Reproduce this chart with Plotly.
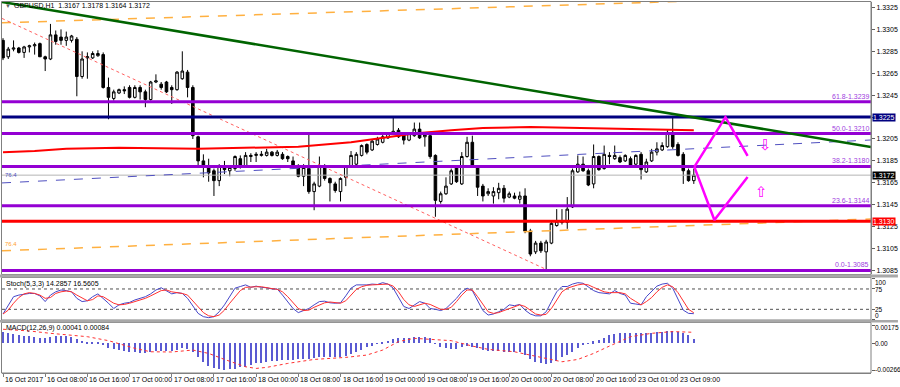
import plotly.graph_objects as go

# ---------------- data ----------------
time_labels = ["16 Oct 2017", "16 Oct 08:00", "16 Oct 16:00", "17 Oct 00:00", "17 Oct 08:00",
               "17 Oct 16:00", "18 Oct 00:00", "18 Oct 08:00", "18 Oct 16:00", "19 Oct 00:00",
               "19 Oct 08:00", "19 Oct 16:00", "20 Oct 00:00", "20 Oct 08:00", "20 Oct 16:00",
               "23 Oct 01:00", "23 Oct 09:00"]
time_label_bars = [0, 8, 16, 24, 32, 40, 48, 56, 64, 72, 80, 88, 96, 104, 112, 120, 128]

open_ = [1.3295, 1.3280, 1.3287, 1.3288, 1.3284, 1.3289, 1.3290, 1.3292, 1.3280, 1.3278,
         1.3300, 1.3298, 1.3295, 1.3295, 1.3296, 1.3262, 1.3279, 1.3279, 1.3281, 1.3282,
         1.3252, 1.3242, 1.3247, 1.3250, 1.3252, 1.3243, 1.3252, 1.3248, 1.3241, 1.3257,
         1.3255, 1.3257, 1.3252, 1.3250, 1.3260, 1.3266, 1.3252, 1.3207, 1.3185, 1.3180,
         1.3176, 1.3167, 1.3180, 1.3176, 1.3178, 1.3187, 1.3180, 1.3189, 1.3190, 1.3190,
         1.3190, 1.3193, 1.3190, 1.3191, 1.3189, 1.3185, 1.3180, 1.3171, 1.3178, 1.3157,
         1.3162, 1.3180, 1.3169, 1.3164, 1.3157, 1.3170, 1.3180, 1.3182, 1.3190, 1.3200,
         1.3195, 1.3200, 1.3202, 1.3206, 1.3210, 1.3213, 1.3209, 1.3204, 1.3208, 1.3214,
         1.3207, 1.3208, 1.3190, 1.3148, 1.3155, 1.3164, 1.3179, 1.3164, 1.3189, 1.3202,
         1.3179, 1.3162, 1.3155, 1.3153, 1.3156, 1.3160, 1.3152, 1.3153, 1.3150, 1.3153,
         1.3121, 1.3102, 1.3110, 1.3102, 1.3110, 1.3126, 1.3130, 1.3129, 1.3143, 1.3175,
         1.3182, 1.3176, 1.3164, 1.3189, 1.3178, 1.3190, 1.3187, 1.3188, 1.3185, 1.3187,
         1.3182, 1.3191, 1.3175, 1.3185, 1.3193, 1.3195, 1.3198, 1.3211, 1.3200, 1.3191,
         1.3176, 1.3167]
high = [1.3297, 1.3289, 1.3295, 1.3289, 1.3290, 1.3291, 1.3293, 1.3293, 1.3281, 1.3310,
        1.3304, 1.3305, 1.3303, 1.3300, 1.3298, 1.3285, 1.3284, 1.3285, 1.3286, 1.3284,
        1.3261, 1.3250, 1.3251, 1.3253, 1.3254, 1.3254, 1.3254, 1.3250, 1.3258, 1.3264,
        1.3257, 1.3258, 1.3254, 1.3267, 1.3285, 1.3268, 1.3254, 1.3208, 1.3191, 1.3187,
        1.3178, 1.3182, 1.3185, 1.3181, 1.3190, 1.3190, 1.3193, 1.3192, 1.3193, 1.3194,
        1.3196, 1.3194, 1.3195, 1.3193, 1.3190, 1.3189, 1.3182, 1.3182, 1.3211, 1.3166,
        1.3189, 1.3182, 1.3170, 1.3166, 1.3170, 1.3181, 1.3194, 1.3193, 1.3200, 1.3201,
        1.3205, 1.3207, 1.3209, 1.3211, 1.3225, 1.3215, 1.3210, 1.3211, 1.3220, 1.3220,
        1.3211, 1.3210, 1.3191, 1.3157, 1.3170, 1.3178, 1.3180, 1.3193, 1.3207, 1.3208,
        1.3180, 1.3164, 1.3160, 1.3161, 1.3165, 1.3163, 1.3157, 1.3156, 1.3157, 1.3160,
        1.3123, 1.3112, 1.3112, 1.3113, 1.3130, 1.3141, 1.3141, 1.3152, 1.3178, 1.3190,
        1.3189, 1.3178, 1.3200, 1.3190, 1.3199, 1.3193, 1.3199, 1.3190, 1.3191, 1.3189,
        1.3191, 1.3193, 1.3187, 1.3196, 1.3202, 1.3202, 1.3213, 1.3226, 1.3202, 1.3193,
        1.3178, 1.3178]
low = [1.3277, 1.3278, 1.3285, 1.3283, 1.3279, 1.3284, 1.3282, 1.3280, 1.3267, 1.3277,
       1.3291, 1.3291, 1.3290, 1.3293, 1.3244, 1.3260, 1.3260, 1.3278, 1.3280, 1.3251,
       1.3223, 1.3240, 1.3246, 1.3246, 1.3242, 1.3242, 1.3241, 1.3234, 1.3240, 1.3256,
       1.3250, 1.3247, 1.3237, 1.3249, 1.3259, 1.3243, 1.3205, 1.3180, 1.3170, 1.3166,
       1.3153, 1.3162, 1.3173, 1.3171, 1.3176, 1.3178, 1.3179, 1.3184, 1.3184, 1.3189,
       1.3189, 1.3189, 1.3189, 1.3186, 1.3184, 1.3178, 1.3170, 1.3162, 1.3155, 1.3140,
       1.3161, 1.3167, 1.3148, 1.3156, 1.3148, 1.3162, 1.3179, 1.3180, 1.3189, 1.3191,
       1.3194, 1.3199, 1.3201, 1.3205, 1.3209, 1.3206, 1.3200, 1.3203, 1.3207, 1.3205,
       1.3198, 1.3187, 1.3134, 1.3146, 1.3154, 1.3163, 1.3165, 1.3163, 1.3188, 1.3179,
       1.3153, 1.3148, 1.3153, 1.3146, 1.3150, 1.3147, 1.3151, 1.3150, 1.3146, 1.3119,
       1.3098, 1.3100, 1.3101, 1.3086, 1.3109, 1.3125, 1.3127, 1.3123, 1.3142, 1.3174,
       1.3175, 1.3162, 1.3160, 1.3176, 1.3177, 1.3182, 1.3186, 1.3183, 1.3184, 1.3180,
       1.3181, 1.3168, 1.3174, 1.3184, 1.3190, 1.3194, 1.3197, 1.3196, 1.3189, 1.3164,
       1.3166, 1.3164]
close = [1.3279, 1.3287, 1.3288, 1.3284, 1.3289, 1.3290, 1.3291, 1.3280, 1.3278, 1.3300,
         1.3294, 1.3295, 1.3298, 1.3299, 1.3262, 1.3278, 1.3280, 1.3283, 1.3283, 1.3252,
         1.3243, 1.3248, 1.3250, 1.3249, 1.3243, 1.3252, 1.3248, 1.3241, 1.3257, 1.3258,
         1.3252, 1.3248, 1.3250, 1.3266, 1.3267, 1.3252, 1.3208, 1.3185, 1.3180, 1.3174,
         1.3167, 1.3180, 1.3177, 1.3179, 1.3189, 1.3180, 1.3190, 1.3190, 1.3191, 1.3191,
         1.3193, 1.3190, 1.3193, 1.3187, 1.3187, 1.3179, 1.3171, 1.3179, 1.3157, 1.3164,
         1.3180, 1.3169, 1.3165, 1.3158, 1.3169, 1.3180, 1.3190, 1.3191, 1.3199, 1.3193,
         1.3203, 1.3205, 1.3207, 1.3210, 1.3212, 1.3207, 1.3204, 1.3210, 1.3214, 1.3206,
         1.3209, 1.3189, 1.3149, 1.3155, 1.3162, 1.3176, 1.3166, 1.3189, 1.3202, 1.3180,
         1.3161, 1.3153, 1.3157, 1.3157, 1.3160, 1.3151, 1.3155, 1.3151, 1.3153, 1.3121,
         1.3100, 1.3110, 1.3103, 1.3111, 1.3128, 1.3130, 1.3129, 1.3141, 1.3176, 1.3182,
         1.3176, 1.3163, 1.3189, 1.3177, 1.3191, 1.3189, 1.3190, 1.3184, 1.3190, 1.3181,
         1.3190, 1.3177, 1.3184, 1.3193, 1.3196, 1.3199, 1.3211, 1.3198, 1.3190, 1.3176,
         1.3167, 1.3172]

price_ticks = [1.3325, 1.3305, 1.3285, 1.3265, 1.3245, 1.3225, 1.3205, 1.3185,
               1.3165, 1.3145, 1.3125, 1.3105, 1.3085]

fib_levels = [1.3239, 1.3210, 1.3180, 1.3144, 1.3085]
fib_texts = ["61.8-1.3239", "50.0-1.3210", "38.2-1.3180", "23.6-1.3144", "0.0-1.3085"]
resistance_level = 1.3225
support_level = 1.3130
last_price = 1.3172

# moving average (red) sampled along its course: bar index / price
ma_bars = [0, 6, 12, 22, 37, 56, 66, 72, 78, 85, 91, 100, 110, 121, 131]
ma_vals = [1.3193, 1.3194, 1.3196, 1.3197, 1.3196, 1.3198, 1.3202, 1.3206, 1.3210,
           1.3213, 1.3215, 1.3216, 1.3215, 1.3214, 1.3213]

# drawn objects: endpoints (bar index, price)
green_trend_bars = [-0.19, 164.6]
green_trend_vals = [1.3330, 1.31977]
orange_top_bars = [-0.19, 164.6]
orange_top_vals = [1.3311, 1.3336]
orange_low_bars = [-0.19, 164.6]
orange_low_vals = [1.3103, 1.3132]
blue_chan_bars = [-0.19, 164.6]
blue_chan_vals = [1.31649, 1.32041]
red_diag_bars = [-0.19, 103]
red_diag_vals = [1.3315, 1.3086]
zig_up_bars = [131.1, 137.0, 141.2]
zig_up_vals = [1.31795, 1.3225, 1.31895]
zig_dn_bars = [131.1, 134.9, 141.2]
zig_dn_vals = [1.31795, 1.31311, 1.31703]

stoch_k = [13.5, 36, 56, 60, 62, 64, 64, 58, 44, 60,
           68, 72.5, 71, 68, 52, 44, 46, 56, 63, 52,
           40, 27, 36, 40, 42, 48, 52, 56, 63, 72.5,
           78, 71, 63, 66, 64, 52, 32, 15, 7, 4.5,
           7, 19, 36, 58, 77, 81, 85, 79, 82, 79,
           78, 75, 75, 60, 44, 27, 17, 23, 27, 36,
           44, 45, 41, 40, 41, 58, 77, 85, 85, 85,
           87, 86, 90.5, 87, 77, 56, 32, 27, 36, 44,
           40, 27, 25, 22, 27, 40, 52, 68, 77, 71,
           48, 22, 11, 13.5, 19, 25, 36, 34, 37, 23,
           13.5, 9, 9, 19, 44, 68, 81, 81, 87, 90.5,
           89, 79, 71, 66, 64, 63, 71, 64, 60, 40,
           38, 36, 56, 68, 82, 87, 89, 77, 48, 23,
           15, 14.29]
stoch_d = [13.5, 23, 40, 54, 63, 66, 64, 60, 52, 54,
           64, 68, 70, 68, 60, 52, 46, 49, 58, 56,
           49, 40, 36, 37, 40, 44, 48, 52, 58, 64,
           71, 72.5, 68, 66, 64, 60, 46, 32, 17, 9,
           7, 11, 23, 40, 56, 71, 79, 80.5, 80.5, 80.5,
           79, 76, 74, 68, 56, 41, 27, 22, 23, 30,
           36, 41, 43, 42, 40, 46, 60, 74, 80.5, 84,
           85, 86, 87, 87, 82, 68, 49, 36, 32, 36,
           40, 37, 32, 25, 25, 30, 44, 60, 72.5, 72.5,
           56, 36, 19, 15, 17, 22, 27, 32, 36, 32,
           22, 13.5, 11, 12.7, 27, 48, 68, 77, 82, 85,
           87, 85, 79, 72.5, 68, 66, 66, 66, 63, 52,
           44, 36, 44, 54, 68, 79, 85, 80.5, 66, 44,
           25, 16.56]
stoch_levels = [75, 25]

macd_hist = [0.00112, 0.00102, 0.00088, 0.00078, 0.00072, 0.00069, 0.00062, 0.00052, 0.00046, 0.00062,
             0.00072, 0.00069, 0.00069, 0.00062, 0.00036, 0.00023, 0.00014, 0.00014, 0.00006, -0.00020,
             -0.00052, -0.00062, -0.00069, -0.00076, -0.00086, -0.00092, -0.00095, -0.00095, -0.00086, -0.00079,
             -0.00076, -0.00076, -0.00079, -0.00069, -0.00052, -0.00059, -0.00086, -0.00135, -0.00184, -0.00227,
             -0.00249, -0.00259, -0.00266, -0.00259, -0.00256, -0.00239, -0.00233, -0.00217, -0.00200, -0.00194,
             -0.00184, -0.00177, -0.00174, -0.00167, -0.00167, -0.00167, -0.00161, -0.00161, -0.00161, -0.00151,
             -0.00141, -0.00141, -0.00141, -0.00141, -0.00141, -0.00128, -0.00108, -0.00086, -0.00069, -0.00042,
             -0.00030, -0.00004, 0.00014, 0.00023, 0.00036, 0.00046, 0.00046, 0.00052, 0.00062, 0.00062,
             0.00062, 0.00046, -0.00004, -0.00036, -0.00052, -0.00059, -0.00059, -0.00042, -0.00030, -0.00036,
             -0.00052, -0.00069, -0.00079, -0.00079, -0.00079, -0.00086, -0.00086, -0.00086, -0.00086, -0.00118,
             -0.00161, -0.00184, -0.00200, -0.00207, -0.00194, -0.00174, -0.00141, -0.00118, -0.00086, -0.00046,
             -0.00020, -0.00004, 0.00016, 0.00030, 0.00046, 0.00078, 0.00088, 0.00095, 0.00102, 0.00095,
             0.00102, 0.00095, 0.00095, 0.00102, 0.00108, 0.00108, 0.00118, 0.00122, 0.00112, 0.00095,
             0.00078, 0.00041]
macd_sig_bars = [0, 5, 9, 12, 16, 20, 25, 28, 32, 36, 39, 42, 46, 48, 50, 54, 59, 65, 69, 72,
                 75, 78, 82, 85, 89, 92, 97, 102, 106, 109, 112, 115, 119, 123, 127, 131]
macd_sig_vals = [0.00135, 0.00118, 0.00095, 0.00078, 0.00062, 0.00023, -0.00052, -0.00086, -0.00088,
                 -0.00069, -0.00102, -0.00161, -0.00233, -0.00249, -0.00239, -0.00200, -0.00161,
                 -0.00141, -0.00118, -0.00069, 0.00014, 0.00046, 0.00036, 0.00023, -0.00030,
                 -0.00062, -0.00086, -0.00141, -0.00184, -0.00161, -0.00102, -0.00030, 0.00062,
                 0.00095, 0.00112, 0.00105]

# ---------------- geometry helpers ----------------
W, H = 900, 387
ML, MR, MT, MB = 2, 27, 2, 14
PW, PH = W - ML - MR, H - MT - MB


def px(x):
    return (x - ML) / PW


def py(y):
    return (H - MB - y) / PH


X0, X1 = -0.19, 164.6
FONT = "Liberation Sans"
bars = list(range(len(close)))

fig = go.Figure()

# current price line
fig.add_trace(go.Scatter(x=[X0, X1], y=[last_price, last_price], mode="lines",
                         line=dict(color="#B4B4B4", width=1), hoverinfo="skip"))

fig.add_trace(go.Candlestick(
    x=bars, open=open_, high=high, low=low, close=close,
    increasing=dict(line=dict(color="black", width=1), fillcolor="white"),
    decreasing=dict(line=dict(color="black", width=1), fillcolor="black"),
    whiskerwidth=0, hoverinfo="skip", xaxis="x", yaxis="y"))

# channel / trend objects
fig.add_trace(go.Scatter(x=orange_top_bars, y=orange_top_vals, mode="lines",
                         line=dict(color="#FFB040", width=1.5, dash="dash"), hoverinfo="skip"))
fig.add_trace(go.Scatter(x=orange_low_bars, y=orange_low_vals, mode="lines",
                         line=dict(color="#FFB040", width=1.5, dash="dash"), hoverinfo="skip"))
fig.add_trace(go.Scatter(x=blue_chan_bars, y=blue_chan_vals, mode="lines",
                         line=dict(color="#5050C0", width=1, dash="dash"), hoverinfo="skip"))
fig.add_trace(go.Scatter(x=red_diag_bars, y=red_diag_vals, mode="lines",
                         line=dict(color="#FF6060", width=1, dash="dot"), hoverinfo="skip"))
fig.add_trace(go.Scatter(x=ma_bars, y=ma_vals, mode="lines",
                         line=dict(color="#FF0000", width=2), hoverinfo="skip"))

for lv in fib_levels:
    fig.add_trace(go.Scatter(x=[X0, X1], y=[lv, lv], mode="lines",
                             line=dict(color="#9400D3", width=3), hoverinfo="skip"))
fig.add_trace(go.Scatter(x=[X0, X1], y=[resistance_level] * 2, mode="lines",
                         line=dict(color="#000080", width=3), hoverinfo="skip"))
fig.add_trace(go.Scatter(x=[X0, X1], y=[support_level] * 2, mode="lines",
                         line=dict(color="#FF0000", width=3), hoverinfo="skip"))
fig.add_trace(go.Scatter(x=green_trend_bars, y=green_trend_vals, mode="lines",
                         line=dict(color="#006400", width=2.5), hoverinfo="skip"))
fig.add_trace(go.Scatter(x=zig_up_bars, y=zig_up_vals, mode="lines",
                         line=dict(color="#FF00FF", width=2.5), hoverinfo="skip"))
fig.add_trace(go.Scatter(x=zig_dn_bars, y=zig_dn_vals, mode="lines",
                         line=dict(color="#FF00FF", width=2.5), hoverinfo="skip"))

# stochastic
for lv in stoch_levels:
    fig.add_trace(go.Scatter(x=[X0, X1], y=[lv, lv], mode="lines", yaxis="y2",
                             line=dict(color="#505050", width=1, dash="dot"), hoverinfo="skip"))
fig.add_trace(go.Scatter(x=bars, y=stoch_k, mode="lines", yaxis="y2",
                         line=dict(color="#4646C8", width=1), hoverinfo="skip"))
fig.add_trace(go.Scatter(x=bars, y=stoch_d, mode="lines", yaxis="y2",
                         line=dict(color="#FF3030", width=1), hoverinfo="skip"))

# MACD
fig.add_trace(go.Bar(x=bars, y=macd_hist, yaxis="y3", width=0.28,
                     marker=dict(color="#5A5AD2", line=dict(width=0)), hoverinfo="skip"))
fig.add_trace(go.Scatter(x=macd_sig_bars, y=macd_sig_vals, mode="lines", yaxis="y3",
                         line=dict(color="#FF3030", width=1, dash="dot"), hoverinfo="skip"))

# ---------------- annotations ----------------
ann = []
ann.append(dict(xref="paper", yref="paper", x=px(3), y=py(6), xanchor="left", yanchor="middle",
                text="▼", showarrow=False, font=dict(family=FONT, size=6, color="#606060")))
ann.append(dict(xref="paper", yref="paper", x=px(12), y=py(6), xanchor="left", yanchor="middle",
                text="GBPUSD,H1  1.3167 1.3178 1.3164 1.3172", showarrow=False,
                font=dict(family=FONT, size=7, color="black")))
ann.append(dict(xref="paper", yref="paper", x=px(4), y=py(284), xanchor="left", yanchor="middle",
                text="Stoch(5,3,3) 14.2857 16.5605", showarrow=False,
                font=dict(family=FONT, size=7, color="black")))
ann.append(dict(xref="paper", yref="paper", x=px(4), y=py(328), xanchor="left", yanchor="middle",
                text="MACD(12,26,9) 0.00041 0.00084", showarrow=False,
                font=dict(family=FONT, size=7, color="black")))
for lv, t in zip(fib_levels, fib_texts):
    ann.append(dict(xref="paper", yref="y", x=px(872), y=lv, xanchor="right", yanchor="bottom",
                    yshift=1, text=t, showarrow=False, borderpad=0,
                    font=dict(family=FONT, size=7, color="#A040E0")))
ann.append(dict(xref="paper", yref="paper", x=px(3), y=py(175), xanchor="left", yanchor="middle",
                text="76.4", showarrow=False, font=dict(family=FONT, size=6, color="#5050C0")))
ann.append(dict(xref="paper", yref="paper", x=px(3), y=py(244), xanchor="left", yanchor="middle",
                text="76.4", showarrow=False, font=dict(family=FONT, size=6, color="#FFA030")))
for lv, bg in [(resistance_level, "#000080"), (last_price, "#000000"), (support_level, "#FF0000")]:
    ann.append(dict(xref="paper", yref="y", x=px(874), y=lv, xanchor="left", yanchor="middle",
                    text=f"{lv:.4f}", showarrow=False, bgcolor=bg, borderpad=0,
                    font=dict(family=FONT, size=7, color="white")))
for b, t in zip(time_label_bars, time_labels):
    ann.append(dict(xref="x", yref="paper", x=b, y=py(379), xanchor="left", yanchor="middle",
                    xshift=0, text=t, showarrow=False, font=dict(family=FONT, size=7, color="black")))
for t, ypx in [("100", 282), ("75", 289), ("25", 309), ("0", 315),
               ("0.00175", 327), ("0.00", 343), ("-0.00266", 369)]:
    ann.append(dict(xref="paper", yref="paper", x=px(876), y=py(ypx), xanchor="left", yanchor="middle",
                    text=t, showarrow=False, borderpad=0,
                    font=dict(family=FONT, size=6.5, color="black")))
ann.append(dict(xref="x", yref="y", x=144.6, y=1.31995, text="⇩", showarrow=False,
                font=dict(family="DejaVu Sans", size=15, color="#FF00FF")))
ann.append(dict(xref="x", yref="y", x=143.8, y=1.31567, text="⇧", showarrow=False,
                font=dict(family="DejaVu Sans", size=15, color="#FF00FF")))

# ---------------- panel frames ----------------
shapes = []
frame = "#808080"
for y_top, y_bot in [(1.5, 274.5), (277.5, 320), (322.5, 373)]:
    shapes.append(dict(type="rect", xref="paper", yref="paper", x0=px(1.5), x1=px(873),
                       y0=py(y_bot), y1=py(y_top), line=dict(color=frame, width=1), layer="above"))
for y_top, y_bot in [(274.5, 277.5), (320, 322.5)]:
    shapes.append(dict(type="rect", xref="paper", yref="paper", x0=px(0), x1=px(900),
                       y0=py(y_bot), y1=py(y_top), fillcolor="#A8A8A8",
                       line=dict(width=0), layer="above"))

# the 1.3225 tick is shown by the highlighted box instead of a plain label
tick_text = ["" if abs(v - resistance_level) < 1e-9 else f"{v:.4f}" for v in price_ticks]

fig.update_layout(
    width=W, height=H, margin=dict(l=ML, r=MR, t=MT, b=MB),
    paper_bgcolor="white", plot_bgcolor="white", showlegend=False,
    bargap=0, barmode="relative",
    xaxis=dict(range=[X0, X1], domain=[0, 1], anchor="y3", showgrid=False, zeroline=False,
               tickvals=time_label_bars, ticks="outside", ticklen=3, tickcolor="#808080",
               showticklabels=False, showline=True, linecolor=frame,
               rangeslider=dict(visible=False), fixedrange=True),
    yaxis=dict(domain=[py(274), 1], range=[1.30818, 1.3330], side="right", anchor="x",
               tickvals=price_ticks, ticktext=tick_text,
               ticks="outside", ticklen=3, tickcolor="#606060",
               tickfont=dict(family=FONT, size=7, color="black"),
               showgrid=False, zeroline=False, showline=True, linecolor=frame),
    yaxis2=dict(domain=[py(319.5), py(278.8)], range=[0, 100], anchor="x", side="right",
                tickvals=[100, 75, 25, 0], ticks="outside", ticklen=3, tickcolor="#606060",
                showticklabels=False, showgrid=False, zeroline=False),
    yaxis3=dict(domain=[0, py(322)], range=[-0.00294, 0.00206], anchor="x", side="right",
                tickvals=[0.00175, 0.0, -0.00266], ticks="outside", ticklen=3, tickcolor="#606060",
                showticklabels=False, showgrid=False, zeroline=False),
    annotations=ann, shapes=shapes,
)

fig.write_html("out.html", config={"displayModeBar": False},
               post_script="document.body.style.margin='0';document.body.style.overflow='hidden';")
